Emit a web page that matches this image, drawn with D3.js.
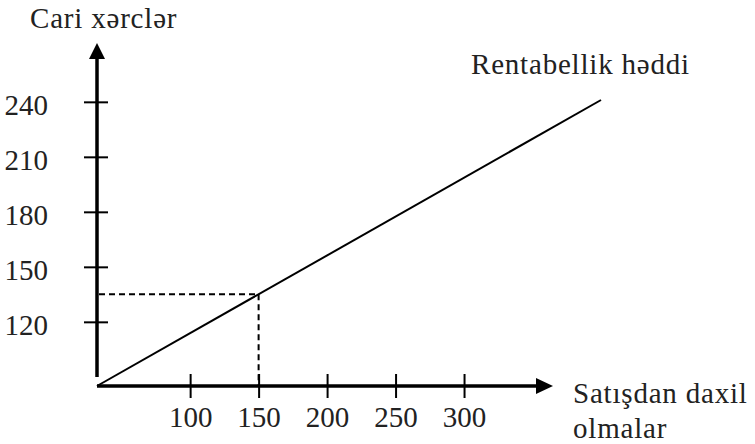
<!DOCTYPE html>
<html>
<head>
<meta charset="utf-8">
<script src="https://cdn.jsdelivr.net/npm/d3@7/dist/d3.min.js"></script>
<style>
  html, body { margin: 0; padding: 0; background: #fff; }
</style>
</head>
<body>
<svg id="chart" width="755" height="444"></svg>
<script>
// ---- data ----
const xTicks = [100, 150, 200, 250, 300];
const yTicks = [120, 150, 180, 210, 240];
const xDomain = [32, 400];
const yDomain = [85, 241];
const lineX = [32, 400];          // break-even line, x values
const lineY = [85, 241];          // break-even line, y values
const breakEvenX = [150];
const breakEvenY = [135];
const yTitle = "Cari xərclər";
const xTitle = ["Satışdan daxil", "olmalar"];
const lineLabel = "Rentabellik həddi";

// ---- layout ----
const FONT = '"Liberation Serif", "Times New Roman", serif';
const fs = "29px";
const textColor = "#222";
const svg = d3.select("#chart");
const x = d3.scaleLinear().domain(xDomain).range([97, 601]);
const y = d3.scaleLinear().domain(yDomain).range([386, 100]);
const x0 = x(xDomain[0]), y0 = y(yDomain[0]);

function styleText(sel, spacing) {
  return sel.style("font-family", FONT).style("font-size", fs)
    .style("fill", textColor).style("letter-spacing", spacing + "px");
}

// axes lines
const xAxisEnd = 540, yAxisTop = 56;
svg.append("line").attr("x1", x0).attr("x2", xAxisEnd).attr("y1", y0).attr("y2", y0)
  .attr("stroke", "#000").attr("stroke-width", 3.5);
svg.append("line").attr("x1", x0).attr("x2", x0).attr("y1", y0 - 9).attr("y2", yAxisTop)
  .attr("stroke", "#000").attr("stroke-width", 3.5);
// arrowheads
svg.append("path").attr("d", `M${xAxisEnd - 4},${y0 - 8} L${553},${y0} L${xAxisEnd - 4},${y0 + 8} Z`).attr("fill", "#000");
svg.append("path").attr("d", `M${x0 - 8},${yAxisTop + 3} L${x0},${43} L${x0 + 8},${yAxisTop + 3} Z`).attr("fill", "#000");

// ticks via d3 axes
const xAxis = d3.axisBottom(x).tickValues(xTicks).tickSize(0).tickPadding(0);
const gx = svg.append("g").attr("transform", `translate(0,${y0})`).call(xAxis);
gx.select(".domain").remove();
gx.selectAll(".tick line").attr("y1", -12).attr("y2", 12).attr("stroke", "#000").attr("stroke-width", 2);
styleText(gx.selectAll(".tick text").attr("y", 41).attr("dy", 0), 0);

const yAxis = d3.axisLeft(y).tickValues(yTicks).tickSize(0).tickPadding(0);
const gy = svg.append("g").attr("transform", `translate(${x0},0)`).call(yAxis);
gy.select(".domain").remove();
gy.selectAll(".tick line").attr("x1", -13).attr("x2", 11).attr("stroke", "#000").attr("stroke-width", 2);
styleText(gy.selectAll(".tick text").attr("x", -49).attr("dy", "0.42em"), 0);

// break-even line
const pts = lineX.map((d, i) => [d, lineY[i]]);
svg.append("path").datum(pts)
  .attr("d", d3.line().x(d => x(d[0])).y(d => y(d[1])))
  .attr("fill", "none").attr("stroke", "#000").attr("stroke-width", 2);

// dashed guides
const bx = x(breakEvenX[0]), by = y(breakEvenY[0]);
svg.append("line").attr("x1", x0 + 2).attr("x2", bx).attr("y1", by).attr("y2", by)
  .attr("stroke", "#000").attr("stroke-width", 2).attr("stroke-dasharray", "6,4");
svg.append("line").attr("x1", bx).attr("x2", bx).attr("y1", by).attr("y2", y0)
  .attr("stroke", "#000").attr("stroke-width", 2).attr("stroke-dasharray", "6,4");

// titles
styleText(svg.append("text").attr("x", 30).attr("y", 28).text(yTitle), 0.8);
styleText(svg.append("text").attr("x", 471).attr("y", 74).text(lineLabel), 0.8);
styleText(svg.append("text").attr("x", 573).attr("y", 403).text(xTitle[0]), 0.8);
styleText(svg.append("text").attr("x", 573).attr("y", 438).text(xTitle[1]), 0.8);
</script>
</body>
</html>
